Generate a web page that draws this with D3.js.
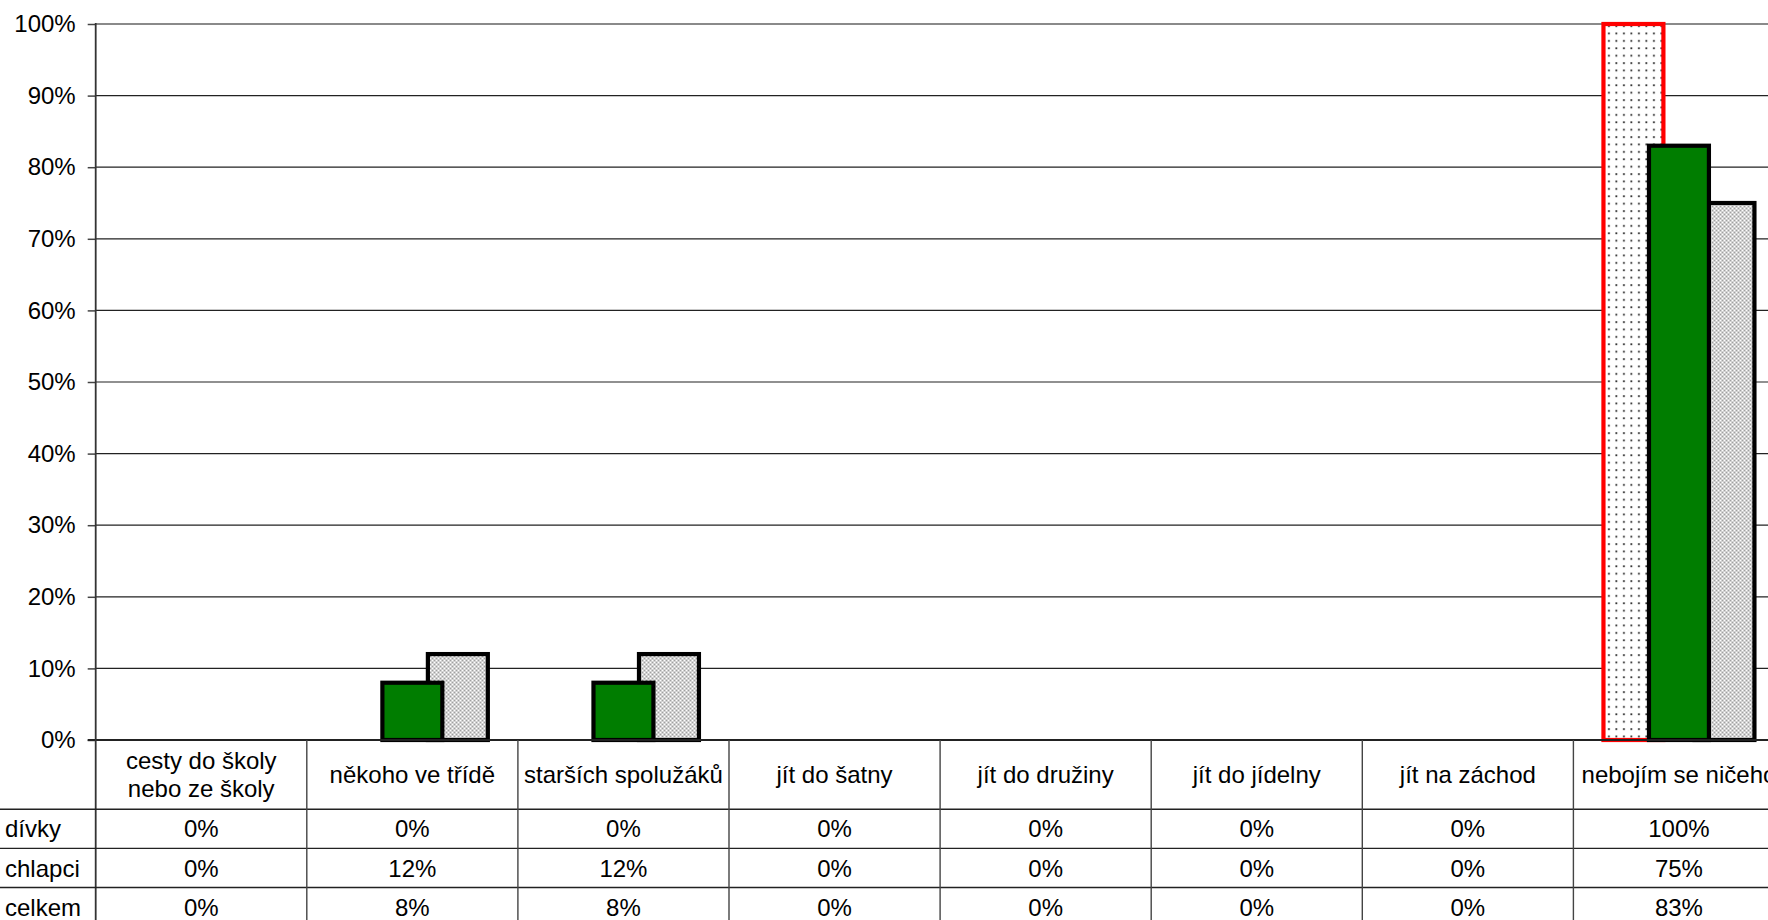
<!DOCTYPE html>
<html>
<head>
<meta charset="utf-8">
<script src="https://cdn.jsdelivr.net/npm/d3@7/dist/d3.min.js"></script>
<style>
  html, body { margin: 0; padding: 0; background: #fff; overflow: hidden; }
  svg { display: block; font-family: "Liberation Sans", Arial, sans-serif; }
</style>
</head>
<body>
<svg id="chart" width="1768" height="920"></svg>
<script>
// ---- data ----
const categories = [
  ["cesty do školy", "nebo ze školy"],
  ["někoho ve třídě"],
  ["starších spolužáků"],
  ["jít do šatny"],
  ["jít do družiny"],
  ["jít do jídelny"],
  ["jít na záchod"],
  ["nebojím se ničeho"]
];
const seriesNames = ["dívky", "chlapci", "celkem"];
const divky   = [0, 0, 0, 0, 0, 0, 0, 100];
const chlapci = [0, 12, 12, 0, 0, 0, 0, 75];
const celkem  = [0, 8, 8, 0, 0, 0, 0, 83];
const yTicks  = [0, 10, 20, 30, 40, 50, 60, 70, 80, 90, 100];

// ---- layout ----
const W = 1768, H = 920;
const plotLeft = 95.7, catW = 211.1;
const plotTop = 24, plotBottom = 740;
const headerBottom = 809.3, rowH = 39.1;
const FS = 24;

const svg = d3.select("#chart");

const x = d3.scaleBand()
  .domain(d3.range(categories.length))
  .range([plotLeft, plotLeft + catW * categories.length])
  .paddingInner(0).paddingOuter(0);
const y = d3.scaleLinear().domain([0, 100]).range([plotBottom, plotTop]);

// patterns
const defs = svg.append("defs");
const dots = defs.append("pattern").attr("id", "dots")
  .attr("patternUnits", "userSpaceOnUse").attr("width", 7.5).attr("height", 7.4);
dots.append("rect").attr("width", 7.5).attr("height", 7.4).attr("fill", "#fff");
dots.append("rect").attr("x", 3).attr("y", 3).attr("width", 1.8).attr("height", 1.8).attr("fill", "#2a2a2a");

const hatch = defs.append("pattern").attr("id", "hatch")
  .attr("patternUnits", "userSpaceOnUse").attr("width", 4).attr("height", 4);
hatch.append("rect").attr("width", 4).attr("height", 4).attr("fill", "#d2d2d2");
[[0,0],[2,2]].forEach(p =>
  hatch.append("rect").attr("x", p[0]).attr("y", p[1]).attr("width", 1).attr("height", 1).attr("fill", "#ffffff"));
[[2,0],[0,2]].forEach(p =>
  hatch.append("rect").attr("x", p[0]).attr("y", p[1]).attr("width", 1).attr("height", 1).attr("fill", "#a0a0a0"));

// gridlines
svg.append("g").selectAll("line").data(yTicks.filter(d => d > 0)).join("line")
  .attr("x1", plotLeft).attr("x2", W)
  .attr("y1", d => y(d)).attr("y2", d => y(d))
  .attr("stroke", d => d === 100 ? "#8a8a8a" : "#222")
  .attr("stroke-width", d => d === 100 ? 2 : 1.2);

// y axis
const yAxis = d3.axisLeft(y).tickValues(yTicks).tickSize(8).tickPadding(12)
  .tickFormat(d => d + "%");
const gy = svg.append("g").attr("transform", `translate(${plotLeft},0)`).call(yAxis);
gy.select(".domain").remove();
gy.selectAll(".tick line").attr("stroke", "#444").attr("stroke-width", 1.5);
gy.selectAll(".tick text").attr("font-size", FS).attr("fill", "#000")
  .attr("font-family", "'Liberation Sans', Arial, sans-serif");

// bars
const bw = catW * 0.284;
const step = catW * 0.2156;
const series = [
  { name: "dívky", values: divky, slot: 0, fill: "url(#dots)", stroke: "#ff0000" },
  { name: "chlapci", values: chlapci, slot: 2, fill: "url(#hatch)", stroke: "#000" },
  { name: "celkem", values: celkem, slot: 1, fill: "#007d00", stroke: "#000" }
];
const barsG = svg.append("g");
series.forEach(s => {
  barsG.append("g").selectAll("rect")
    .data(s.values.map((v, i) => ({ v, i })).filter(d => d.v > 0))
    .join("rect")
    .attr("x", d => x(d.i) + x.bandwidth() / 2 + (s.slot - 1) * step - bw / 2)
    .attr("y", d => y(d.v))
    .attr("width", bw)
    .attr("height", d => y(0) - y(d.v))
    .attr("fill", s.fill)
    .attr("stroke", s.stroke)
    .attr("stroke-width", 4.2);
});

// axes lines
svg.append("line").attr("x1", plotLeft - 8).attr("x2", W).attr("y1", plotBottom).attr("y2", plotBottom)
  .attr("stroke", "#222").attr("stroke-width", 2);
svg.append("line").attr("x1", plotLeft).attr("x2", plotLeft).attr("y1", plotTop - 1).attr("y2", H)
  .attr("stroke", "#333").attr("stroke-width", 1.8);

// data table
const tbl = svg.append("g");
const rowLines = [headerBottom, headerBottom + rowH, headerBottom + 2 * rowH];
tbl.selectAll("line.h").data(rowLines).join("line").attr("class", "h")
  .attr("x1", 0).attr("x2", W).attr("y1", d => d).attr("y2", d => d)
  .attr("stroke", "#222").attr("stroke-width", 1.4);
tbl.selectAll("line.v").data(d3.range(1, categories.length)).join("line").attr("class", "v")
  .attr("x1", d => x(d)).attr("x2", d => x(d)).attr("y1", plotBottom).attr("y2", H)
  .attr("stroke", "#444").attr("stroke-width", 1.4);

// category labels
const lineH = 28;
const headerMid = (plotBottom + headerBottom) / 2;
categories.forEach((lines, i) => {
  const t = tbl.append("text")
    .attr("x", x(i) + x.bandwidth() / 2)
    .attr("text-anchor", "middle")
    .attr("font-size", FS).attr("fill", "#000");
  lines.forEach((ln, k) => {
    t.append("tspan")
      .attr("x", x(i) + x.bandwidth() / 2)
      .attr("y", headerMid + (k - (lines.length - 1) / 2) * lineH)
      .attr("dy", "0.36em")
      .text(ln);
  });
});

// row labels and values
const rows = [divky, chlapci, celkem];
rows.forEach((vals, r) => {
  const cy = headerBottom + rowH * r + rowH / 2;
  tbl.append("text").attr("x", 5).attr("y", cy).attr("dy", "0.36em")
    .attr("font-size", FS).attr("fill", "#000").text(seriesNames[r]);
  tbl.append("g").selectAll("text").data(vals).join("text")
    .attr("x", (d, i) => x(i) + x.bandwidth() / 2)
    .attr("y", cy).attr("dy", "0.36em")
    .attr("text-anchor", "middle")
    .attr("font-size", FS).attr("fill", "#000")
    .text(d => d + "%");
});
</script>
</body>
</html>
